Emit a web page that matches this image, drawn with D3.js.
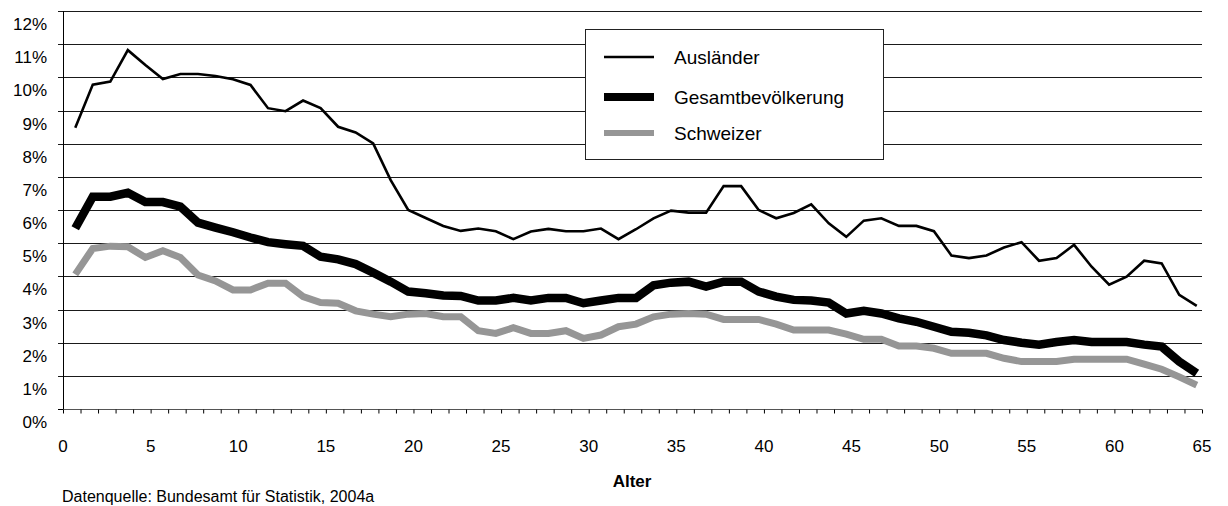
<!DOCTYPE html>
<html>
<head>
<meta charset="utf-8">
<script src="https://cdn.jsdelivr.net/npm/d3@7"></script>
<style>
	body { margin:0; background:#fff; }
	svg text { font-family:"Liberation Sans", Arial, sans-serif; fill:#000; }
</style>
</head>
<body>
<svg id="basicSVG" width="1228" height="506"></svg>
<script>
// Alter 0..64, Anteil in %
var ages = d3.range(0, 65);
var yTicks = [0,1,2,3,4,5,6,7,8,9,10,11,12];
var xLabels = [0,5,10,15,20,25,30,35,40,45,50,55,60,65];

var auslaender = [8.48,9.78,9.87,10.82,10.37,9.95,10.10,10.10,10.04,9.94,
	9.77,9.07,8.98,9.30,9.07,8.51,8.34,8.01,6.90,6.00,
	5.76,5.52,5.37,5.44,5.36,5.12,5.35,5.43,5.36,5.36,
	5.44,5.12,5.42,5.75,5.98,5.92,5.92,6.72,6.72,6.00,
	5.75,5.91,6.17,5.60,5.19,5.68,5.75,5.52,5.52,5.36,
	4.63,4.55,4.63,4.87,5.03,4.47,4.55,4.95,4.29,3.75,
	3.99,4.47,4.39,3.44,3.11];
var gesamt = [5.45,6.40,6.40,6.52,6.24,6.24,6.10,5.62,5.47,5.33,
	5.17,5.03,4.97,4.92,4.59,4.51,4.37,4.11,3.84,3.54,
	3.49,3.42,3.41,3.27,3.27,3.35,3.27,3.35,3.35,3.19,
	3.27,3.35,3.35,3.73,3.81,3.84,3.69,3.84,3.84,3.54,
	3.39,3.29,3.27,3.21,2.88,2.96,2.88,2.73,2.63,2.48,
	2.33,2.30,2.22,2.08,2.00,1.94,2.02,2.08,2.02,2.02,
	2.02,1.94,1.88,1.43,1.08];
var schweizer = [4.06,4.84,4.91,4.89,4.57,4.77,4.57,4.04,3.86,3.59,
	3.59,3.79,3.79,3.39,3.21,3.19,2.96,2.86,2.78,2.86,
	2.88,2.78,2.78,2.36,2.28,2.45,2.28,2.28,2.36,2.13,
	2.23,2.48,2.56,2.78,2.86,2.88,2.86,2.70,2.70,2.70,
	2.56,2.38,2.38,2.38,2.26,2.10,2.10,1.90,1.90,1.83,
	1.68,1.68,1.68,1.53,1.43,1.43,1.43,1.50,1.50,1.50,
	1.50,1.35,1.20,0.97,0.72];

var seriesNames = ["Ausländer","Gesamtbevölkerung","Schweizer"];
var seriesData = [auslaender, gesamt, schweizer];
var seriesColor = ["#000","#000","#969696"];
var seriesWidth = [2.6, 8.5, 7];
var pointShift = 0.7;

var svg = d3.select("#basicSVG");
var x = d3.scaleLinear().domain([0,65]).range([63,1202]);
var y = d3.scaleLinear().domain([0,12]).range([409,11]);

// Gitternetz
svg.append("g").selectAll("line").data(yTicks.slice(1)).enter().append("line")
	.attr("x1",58).attr("x2",1202)
	.attr("y1",function(d){ return Math.round(y(d))+0.5; })
	.attr("y2",function(d){ return Math.round(y(d))+0.5; })
	.attr("stroke","#1a1a1a").attr("stroke-width",1);

// y-Achse
svg.append("line").attr("x1",63.5).attr("x2",63.5).attr("y1",11).attr("y2",409)
	.attr("stroke","#000").attr("stroke-width",1);
svg.append("line").attr("x1",58).attr("x2",63).attr("y1",409.5).attr("y2",409.5)
	.attr("stroke","#000");
svg.append("g").selectAll("text").data(yTicks).enter().append("text")
	.attr("x",47).attr("y",function(d){ return y(d)+19; })
	.attr("text-anchor","end").style("font-size","17px")
	.text(function(d){ return d+"%"; });

// x-Achse
var xAxis = d3.axisBottom(x).tickValues(d3.range(0,66)).tickSize(4).tickFormat("");
var gx = svg.append("g").attr("transform","translate(0,409.5)").call(xAxis);
gx.select(".domain").attr("stroke","#555").attr("d","M63,0H1202");
gx.selectAll(".tick line").attr("stroke","#000");
svg.append("g").selectAll("text").data(xLabels).enter().append("text")
	.attr("x",function(d){ return x(d); }).attr("y",452)
	.attr("text-anchor","middle").style("font-size","17px")
	.text(function(d){ return d; });

svg.append("text").attr("x",632).attr("y",487).attr("text-anchor","middle")
	.style("font-size","17px").style("font-weight","bold").text("Alter");
svg.append("text").attr("x",62).attr("y",502)
	.style("font-size","16px").text("Datenquelle: Bundesamt für Statistik, 2004a");

// Linien
var line = d3.line()
	.x(function(d,i){ return x(ages[i]+pointShift); })
	.y(function(d){ return y(d); });
for(var s=0; s<seriesData.length; s++)
{
	svg.append("path").datum(seriesData[s])
		.attr("d",line).attr("fill","none")
		.attr("stroke",seriesColor[s]).attr("stroke-width",seriesWidth[s])
		.attr("stroke-linejoin","miter").attr("stroke-linecap","butt");
}

// Legende
var lg = svg.append("g");
lg.append("rect").attr("x",585.5).attr("y",29.5).attr("width",298).attr("height",130)
	.attr("fill","#fff").attr("stroke","#222").attr("stroke-width",1);
var legendY = [57, 97, 133];
var legendW = [2.6, 8, 6];
for(var k=0; k<seriesNames.length; k++)
{
	lg.append("line").attr("x1",604).attr("x2",654)
		.attr("y1",legendY[k]).attr("y2",legendY[k])
		.attr("stroke",seriesColor[k]).attr("stroke-width",legendW[k]);
	lg.append("text").attr("x",674).attr("y",legendY[k]+7)
		.style("font-size","19px").text(seriesNames[k]);
}
</script>
</body>
</html>
